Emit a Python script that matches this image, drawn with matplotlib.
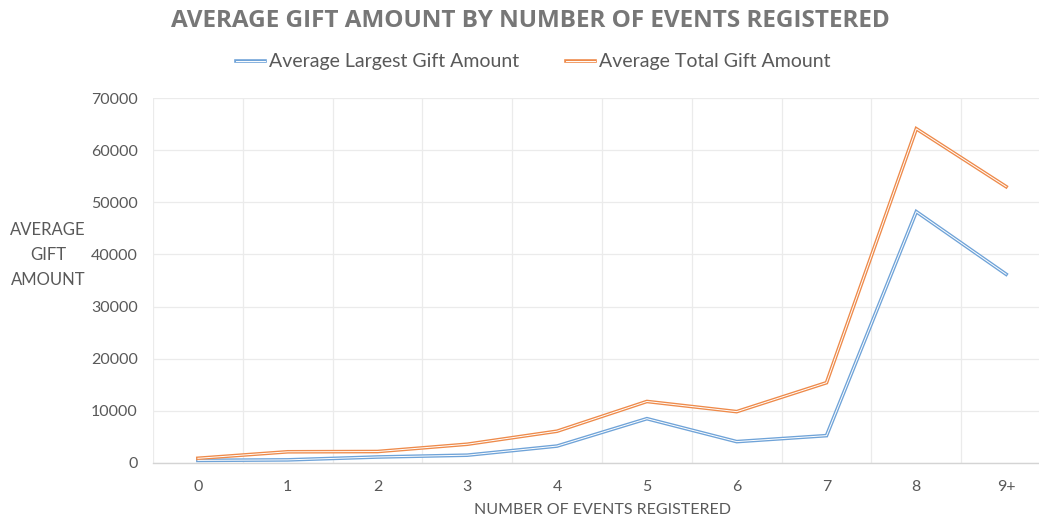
import numpy as np
import matplotlib.pyplot as plt
from matplotlib.legend_handler import HandlerTuple

categories = ['0', '1', '2', '3', '4', '5', '6', '7', '8', '9+']
largest_gift = [500, 600, 1150, 1500, 3250, 8500, 4100, 5250, 48200, 36200]
total_gift = [900, 2150, 2200, 3600, 6100, 11800, 9850, 15400, 64100, 53000]

blue = '#6fa3d8'
orange = '#ee8a4a'
text_col = '#595959'

plt.rcParams['font.family'] = ['Lato', 'DejaVu Sans']

fig = plt.figure(figsize=(10.39, 5.18), dpi=100)
# plot area runs past the right edge of the image, like the reference crop
ax = fig.add_axes([153 / 1039, 1 - 463 / 518, 898 / 1039, 365 / 518])

x = np.arange(len(categories))

# double ("compound") lines: thick coloured stroke with a thin white core
l1, = ax.plot(x, largest_gift, color=blue, lw=2.6, solid_joinstyle='miter', zorder=3)
w1, = ax.plot(x, largest_gift, color='white', lw=0.7, solid_joinstyle='miter', zorder=4)
l2, = ax.plot(x, total_gift, color=orange, lw=2.6, solid_joinstyle='miter', zorder=3)
w2, = ax.plot(x, total_gift, color='white', lw=0.7, solid_joinstyle='miter', zorder=4)

ax.set_xlim(-0.5, len(categories) - 0.5)
ax.set_ylim(0, 70000)
ax.set_yticks(np.arange(0, 70001, 10000))
ax.set_xticks(x)
ax.set_xticklabels(categories)
ax.set_xticks(np.arange(-0.5, len(categories), 1), minor=True)

ax.grid(axis='y', which='major', color='#ebebeb', lw=0.9)
ax.grid(axis='x', which='minor', color='#ebebeb', lw=0.9)
ax.set_axisbelow(True)

for s in ['top', 'right', 'left']:
    ax.spines[s].set_visible(False)
ax.spines['bottom'].set_color('#d4d4d4')
ax.spines['bottom'].set_linewidth(1.0)

ax.tick_params(axis='both', which='both', length=0, labelsize=11.5, labelcolor=text_col)
ax.tick_params(axis='y', pad=11)
ax.tick_params(axis='x', pad=12)

ax.set_xlabel('NUMBER OF EVENTS REGISTERED', fontsize=11.5, color=text_col, labelpad=7)
fig.text(48 / 1039, 1 - 255 / 518, 'AVERAGE\nGIFT\nAMOUNT', ha='center', va='center',
         fontsize=12, color=text_col, linespacing=1.7)

fig.text(530 / 1039, 1 - 21 / 518, 'AVERAGE GIFT AMOUNT BY NUMBER OF EVENTS REGISTERED',
         ha='center', va='center', fontsize=17.5, fontweight='bold', color='#777777',
         family=['Open Sans', 'DejaVu Sans'])

leg = fig.legend([(l1, w1), (l2, w2)],
                 ['Average Largest Gift Amount', 'Average Total Gift Amount'],
                 handler_map={tuple: HandlerTuple(ndivide=1)},
                 loc='center', bbox_to_anchor=(533 / 1039, 1 - 62 / 518), ncol=2,
                 frameon=False, fontsize=14, handlelength=1.5, handletextpad=0.2,
                 columnspacing=2.4, labelcolor=text_col)

fig.savefig('out.png', dpi=100)
